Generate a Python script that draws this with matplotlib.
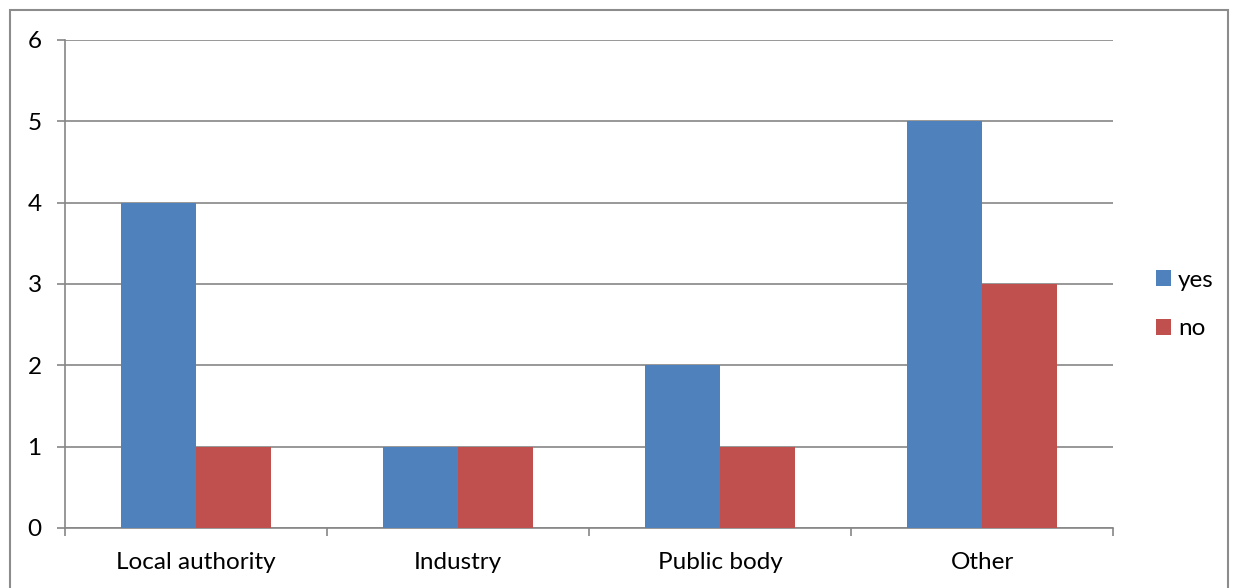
import matplotlib
matplotlib.use("Agg")
import matplotlib.pyplot as plt
from matplotlib.patches import Rectangle
import numpy as np

categories = ["Local authority", "Industry", "Public body", "Other"]
yes_values = [4, 1, 2, 5]
no_values = [1, 1, 1, 3]
y_ticks = [0, 1, 2, 3, 4, 5, 6]

plt.rcParams['font.family'] = ['Lato', 'DejaVu Sans']
FS = 17.5

W, H = 1239, 588
fig = plt.figure(figsize=(W / 100, H / 100), dpi=100)
ax = fig.add_axes([65 / W, 1 - 528 / H, (1113 - 65) / W, (528 - 40) / H])

# outer frame
fig.patches.append(Rectangle((10 / W, -0.05), (1228 - 10) / W, 1 - 10 / H + 0.05,
                             transform=fig.transFigure, fill=False,
                             edgecolor="#8c8c8c", linewidth=1.5))

x = np.arange(len(categories))
w = 0.286
ax.bar(x - w / 2, yes_values, w, color="#4F81BD", label="yes", zorder=3)
ax.bar(x + w / 2, no_values, w, color="#C0504D", label="no", zorder=3)

ax.set_xlim(-0.5, len(categories) - 0.5)
ax.set_ylim(0, 6)
ax.set_yticks(y_ticks)
ax.set_yticklabels([str(v) for v in y_ticks], fontsize=FS)
ax.grid(axis="y", color="#868686", linewidth=1.2, zorder=0)
ax.set_axisbelow(True)

ax.set_xticks(np.arange(len(categories) + 1) - 0.5, minor=False)
ax.set_xticklabels([])
ax.set_xticks(x, minor=True)
ax.set_xticklabels(categories, minor=True, fontsize=FS)
ax.tick_params(axis="x", which="major", length=5.8, color="#868686", width=1.2, direction="out")
ax.tick_params(axis="x", which="minor", length=0, pad=17)
ax.tick_params(axis="y", length=5.8, color="#868686", width=1.2, pad=11)

for s in ["top", "right"]:
    ax.spines[s].set_visible(False)
for s in ["left", "bottom"]:
    ax.spines[s].set_color("#868686")
    ax.spines[s].set_linewidth(1.2)

ax.legend(loc="center left", bbox_to_anchor=(1.032, 0.458), borderaxespad=0,
          frameon=False, fontsize=FS, handlelength=0.6, handleheight=0.6,
          handletextpad=0.3, labelspacing=1.15)

fig.savefig("out.png", dpi=100)
